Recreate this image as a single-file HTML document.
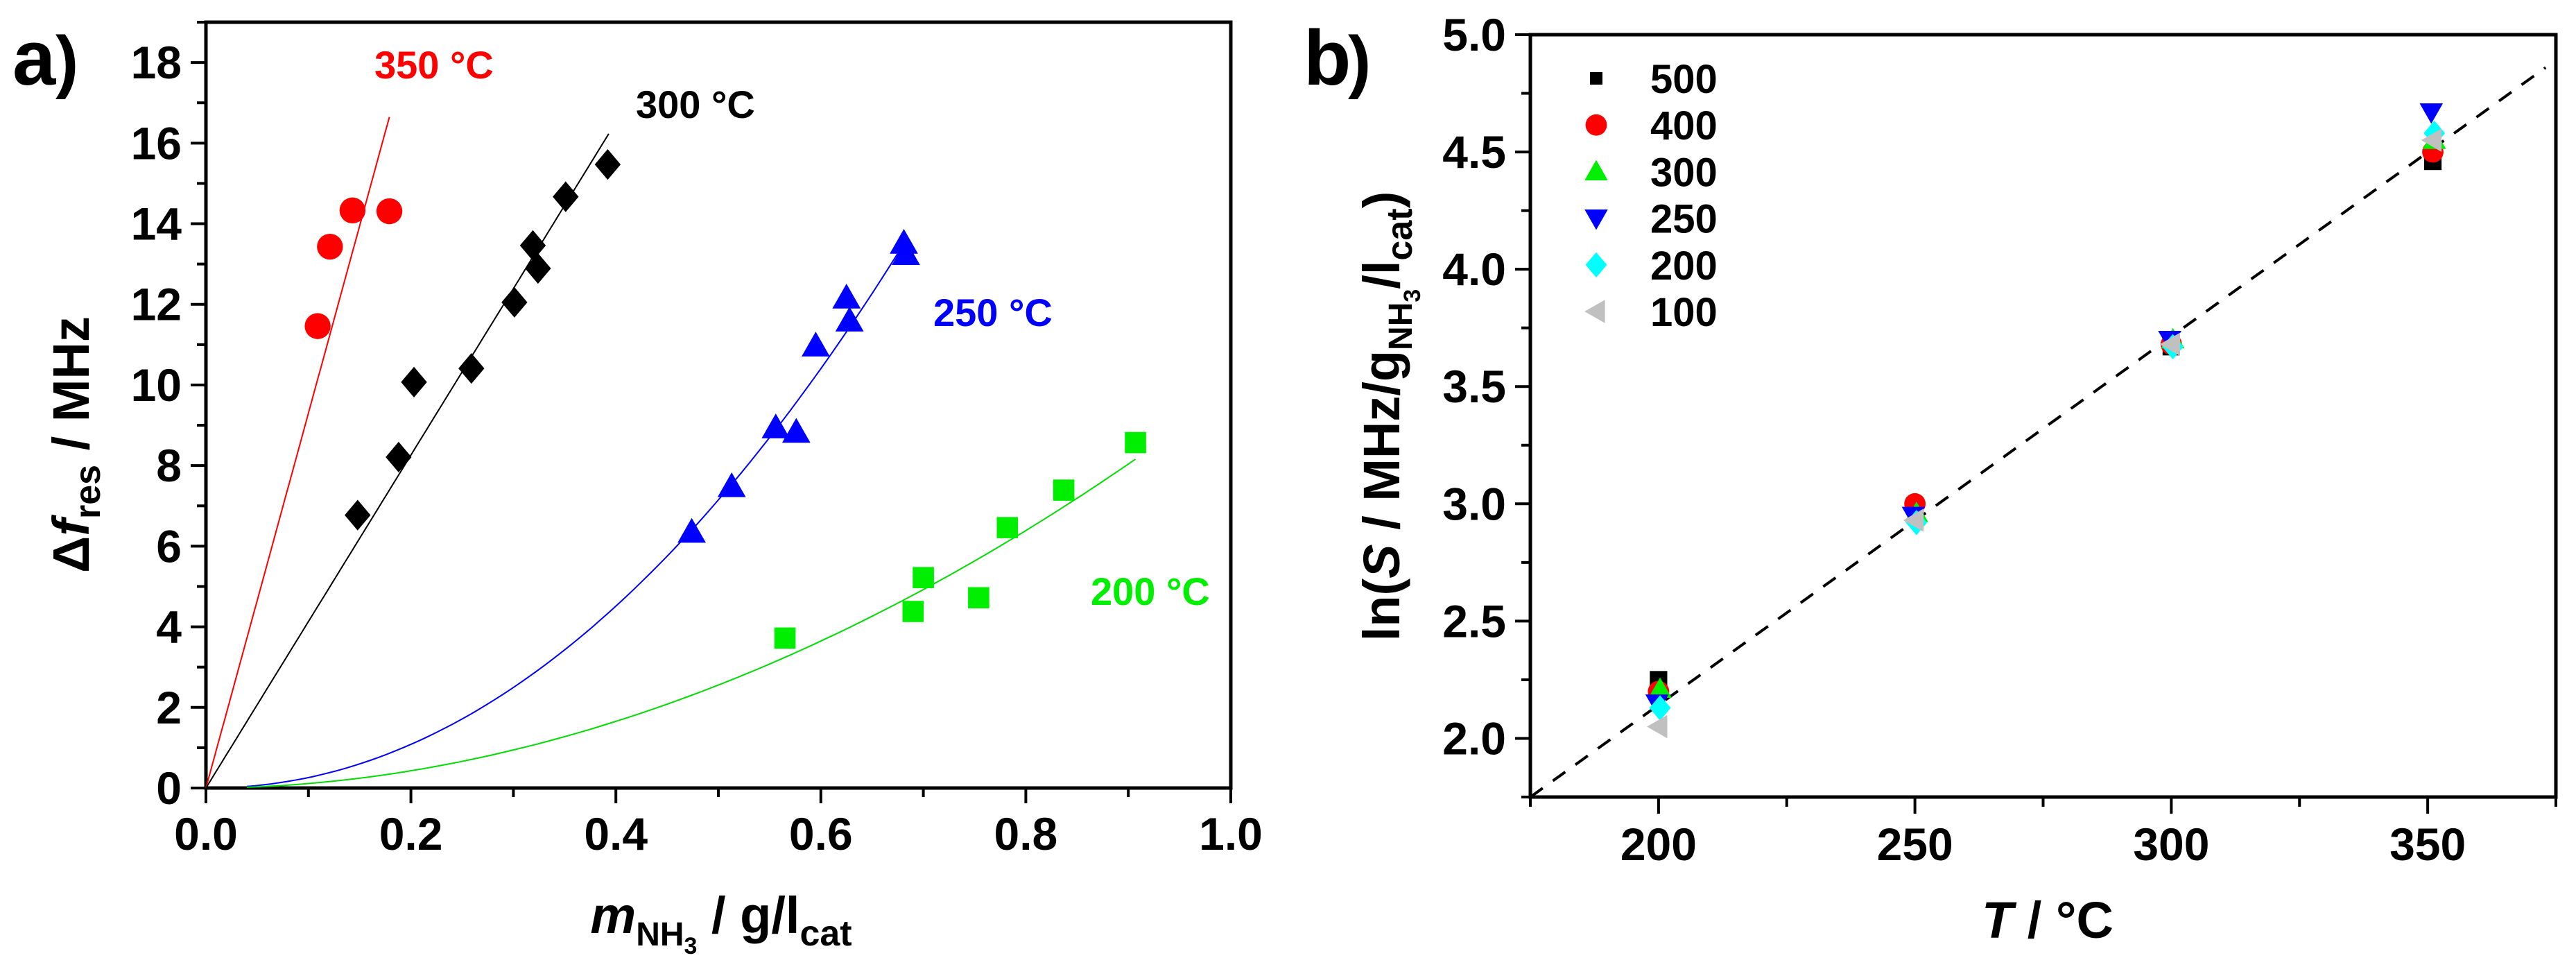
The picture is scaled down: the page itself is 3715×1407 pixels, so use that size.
<!DOCTYPE html>
<html><head><meta charset="utf-8"><style>
html,body{margin:0;padding:0;background:#fff;}
svg{display:block;}
text{font-family:"Liberation Sans Narrow","Liberation Sans",sans-serif;font-weight:bold;font-stretch:condensed;}
</style></head><body>
<svg id="svg" width="3715" height="1407" viewBox="0 0 3715 1407" xmlns="http://www.w3.org/2000/svg">
<g id="pa"></g>
<g id="pb"></g>
</svg>
<script>
// Panel a data
const redX=[0.109,0.121,0.143,0.179];
const redY=[11.46,13.43,14.33,14.31];
const blackX=[0.148,0.188,0.203,0.259,0.301,0.319,0.324,0.351,0.392];
const blackY=[6.77,8.21,10.07,10.41,12.05,13.46,12.89,14.67,15.47];
const blueX=[0.474,0.513,0.556,0.576,0.595,0.625,0.628,0.681,0.683];
const blueY=[6.35,7.48,8.94,8.83,10.97,12.16,11.59,13.52,13.24];
const greenX=[0.565,0.690,0.700,0.754,0.782,0.837,0.907];
const greenY=[3.72,4.38,5.22,4.72,6.46,7.39,8.57];
const redFit=[93.0,1.0,0.179];     // slope, exponent, xmax
const blackFit=[41.3,1.0,0.393];
const blueFit=[29.8,2.06,0.683];
const greenFit=[9.87,1.95,0.907];
const aXTicks=[0,0.2,0.4,0.6,0.8,1.0];
const aXTickLabels=["0.0","0.2","0.4","0.6","0.8","1.0"];
const aYTicks=[0,2,4,6,8,10,12,14,16,18];
// Panel b data
const bT=[200,250,300,350];
const s500=[2.25,2.99,3.67,4.46];
const s400=[2.20,3.00,3.68,4.50];
const s300=[2.21,2.96,3.70,4.55];
const s250=[2.15,2.95,3.70,4.67];
const s200=[2.13,2.92,3.67,4.58];
const s100=[2.05,2.93,3.68,4.55];
const bXTicks=[200,250,300,350];
const bYTicks=[2.0,2.5,3.0,3.5,4.0,4.5,5.0];
const bYTickLabels=["2.0","2.5","3.0","3.5","4.0","4.5","5.0"];
const fitLine=[175,1.75,373,4.86];

const NS="http://www.w3.org/2000/svg";
function mk(parent,tag,attrs,txt){const e=document.createElementNS(NS,tag);for(const k in attrs)e.setAttribute(k,attrs[k]);if(txt!==undefined)e.textContent=txt;parent.appendChild(e);return e;}

// ---- Panel a ----
const pa=document.getElementById('pa');
const ax={x0:297,x1:1775,y0:1136,y1:32,xmin:0,xmax:1,ymin:0,ymax:19};
const axX=v=>ax.x0+(v-ax.xmin)/(ax.xmax-ax.xmin)*(ax.x1-ax.x0);
const axY=v=>ax.y0-(v-ax.ymin)/(ax.ymax-ax.ymin)*(ax.y0-ax.y1);
let r=mk(pa,'rect',{x:ax.x0,y:ax.y1,width:ax.x1-ax.x0,height:ax.y0-ax.y1,fill:'none',stroke:'#000','stroke-width':5});

for(let v=0;v<=1.0001;v+=0.1){const x=axX(v);const major=Math.round(v*10)%2===0;
 let t=mk(pa,'line',{x1:x,y1:ax.y0,x2:x,y2:ax.y0+(major?22:13),stroke:'#000','stroke-width':4});
 }
aXTicks.forEach((v,i)=>{let t=mk(pa,'text',{x:axX(v),y:1225,'font-size':66,'text-anchor':'middle'},aXTickLabels[i]);
 });
for(let v=0;v<=19;v+=1){const y=axY(v);const major=v%2===0;
 let t=mk(pa,'line',{x1:ax.x0,y1:y,x2:ax.x0-(major?22:13),y2:y,stroke:'#000','stroke-width':4});
 }
aYTicks.forEach(v=>{let t=mk(pa,'text',{x:262,y:axY(v)+23,'font-size':66,'text-anchor':'end'},String(v));
 });
function fitPath(f,color,name){let d='';const n=80;const xs=f[1]>1?0.04:0;
 for(let i=0;i<=n;i++){const x=xs+(f[2]-xs)*i/n;const y=f[0]*Math.pow(x,f[1]);d+=(i?'L':'M')+axX(x).toFixed(1)+' '+axY(y).toFixed(1);}
 let p=mk(pa,'path',{d:d,fill:'none',stroke:color,'stroke-width':2});
 }
fitPath(redFit,'#ff0000','fit-350');fitPath(blackFit,'#000','fit-300');fitPath(blueFit,'#0000ff','fit-250');fitPath(greenFit,'#00dd00','fit-200');
function marker(g,type,x,y,s,color){let e;
 if(type==='circle')e=mk(g,'circle',{cx:x,cy:y,r:s*0.55,fill:color});
 else if(type==='square')e=mk(g,'rect',{x:x-s*0.45,y:y-s*0.45,width:s*0.9,height:s*0.9,fill:color});
 else if(type==='diamond')e=mk(g,'polygon',{points:`${x},${y-s*0.65} ${x+s*0.55},${y} ${x},${y+s*0.65} ${x-s*0.55},${y}`,fill:color});
 else if(type==='up')e=mk(g,'polygon',{points:`${x},${y-s*0.6} ${x+s*0.6},${y+s*0.45} ${x-s*0.6},${y+s*0.45}`,fill:color});
 else if(type==='down')e=mk(g,'polygon',{points:`${x},${y+s*0.6} ${x+s*0.6},${y-s*0.45} ${x-s*0.6},${y-s*0.45}`,fill:color});
 else if(type==='left')e=mk(g,'polygon',{points:`${x-s*0.6},${y} ${x+s*0.45},${y-s*0.6} ${x+s*0.45},${y+s*0.6}`,fill:color});
 return e;}
function series(xs,ys,type,color,name){xs.forEach((v,i)=>{let e=marker(pa,type,axX(v),axY(ys[i]),34,color);
 });}
series(redX,redY,'circle','#ff0000','point-350');
series(blackX,blackY,'diamond','#000','point-300');
series(blueX,blueY,'up','#0000ff','point-250');
series(greenX,greenY,'square','#00ee00','point-200');
[['350 °C',540,113,'#ff0000'],['300 °C',917,170,'#000'],['250 °C',1346,470,'#0000ff'],['200 °C',1573,872,'#00ee00']].forEach(l=>{
 let t=mk(pa,'text',{x:l[1],y:l[2],'font-size':56,fill:l[3]},l[0]);});
let ta=mk(pa,'text',{x:18,y:122,'font-size':112},'a');
let pr=mk(pa,'text',{x:80,y:122,'font-size':100,'font-weight':'normal'},')');
let yt=mk(pa,'text',{transform:'translate(128,641) rotate(-90)','font-size':74,'text-anchor':'middle'});

yt.innerHTML='Δ<tspan font-style="italic">f</tspan><tspan font-size="52" dy="16">res</tspan><tspan dy="-16"> / MHz</tspan>';
let xt=mk(pa,'text',{x:1040,y:1345,'font-size':74,'text-anchor':'middle'});

xt.innerHTML='<tspan font-style="italic">m</tspan><tspan font-size="48" dy="18">NH</tspan><tspan font-size="34" dy="12">3</tspan><tspan dy="-30"> / g/l</tspan><tspan font-size="52" dy="18">cat</tspan>';

// ---- Panel b ----
const pb=document.getElementById('pb');
const bx={x0:2207,x1:3686,y0:1149,y1:50,xmin:175,xmax:375,ymin:1.75,ymax:5.0};
const bX=v=>bx.x0+(v-bx.xmin)/(bx.xmax-bx.xmin)*(bx.x1-bx.x0);
const bY=v=>bx.y0-(v-bx.ymin)/(bx.ymax-bx.ymin)*(bx.y0-bx.y1);
r=mk(pb,'rect',{x:bx.x0,y:bx.y1,width:bx.x1-bx.x0,height:bx.y0-bx.y1,fill:'none',stroke:'#000','stroke-width':5});

for(let v=175;v<=375;v+=25){const x=bX(v);const major=v%50===0;
 let t=mk(pb,'line',{x1:x,y1:bx.y0,x2:x,y2:bx.y0+(major?24:14),stroke:'#000','stroke-width':4});
 }
bXTicks.forEach(v=>{let t=mk(pb,'text',{x:bX(v),y:1240,'font-size':66,'text-anchor':'middle'},String(v));
 });
for(let v=1.75;v<=5.001;v+=0.25){const y=bY(v);const major=Math.abs(v*2-Math.round(v*2))<0.01;
 let t=mk(pb,'line',{x1:bx.x0,y1:y,x2:bx.x0-(major?22:13),y2:y,stroke:'#000','stroke-width':4});
 }
bYTicks.forEach((v,i)=>{let t=mk(pb,'text',{x:2172,y:bY(v)+23,'font-size':66,'text-anchor':'end'},bYTickLabels[i]);
 });
let fl=mk(pb,'line',{x1:bX(fitLine[0]),y1:bY(fitLine[1]),x2:bX(fitLine[2]),y2:bY(fitLine[3]),stroke:'#000','stroke-width':4,'stroke-dasharray':'22 18'});

const bSeries=[[s500,'square','#000','500',0],[s400,'circle','#ff0000','400',0],[s300,'up','#00ee00','300',1],[s250,'down','#0000ff','250',-1],[s200,'diamond','#00ffff','200',1],[s100,'left','#c0c0c0','100',0]];
bSeries.forEach((s,si)=>{s[0].forEach((v,i)=>{const off=(i===3?1:0)+s[4]*0.3;
 let e=marker(pb,s[1],bX(bT[i]+off),bY(v),28,s[2]);
 });
 const ly=113+si*67.2;
 let lm=marker(pb,s[1],2302,ly,s[1]==='square'?20:28,s[2]);
 let lt=mk(pb,'text',{x:2380,y:ly+21,'font-size':58},s[3]);});
let tb=mk(pb,'text',{x:1880,y:122,'font-size':112},'b');
let pr2=mk(pb,'text',{x:1944,y:122,'font-size':100,'font-weight':'normal'},')');
let yt2=mk(pb,'text',{transform:'translate(2018,600) rotate(-90)','font-size':74,'text-anchor':'middle'});

yt2.innerHTML='ln(<tspan font-style="italic">S</tspan> / MHz/g<tspan font-size="48" dy="18">NH</tspan><tspan font-size="34" dy="12">3</tspan><tspan dy="-30">/l</tspan><tspan font-size="52" dy="18">cat</tspan><tspan dy="-18">)</tspan>';
let xt2=mk(pb,'text',{x:2953,y:1352,'font-size':74,'text-anchor':'middle'});

xt2.innerHTML='<tspan font-style="italic">T</tspan> / °C';
</script>
</body></html>
